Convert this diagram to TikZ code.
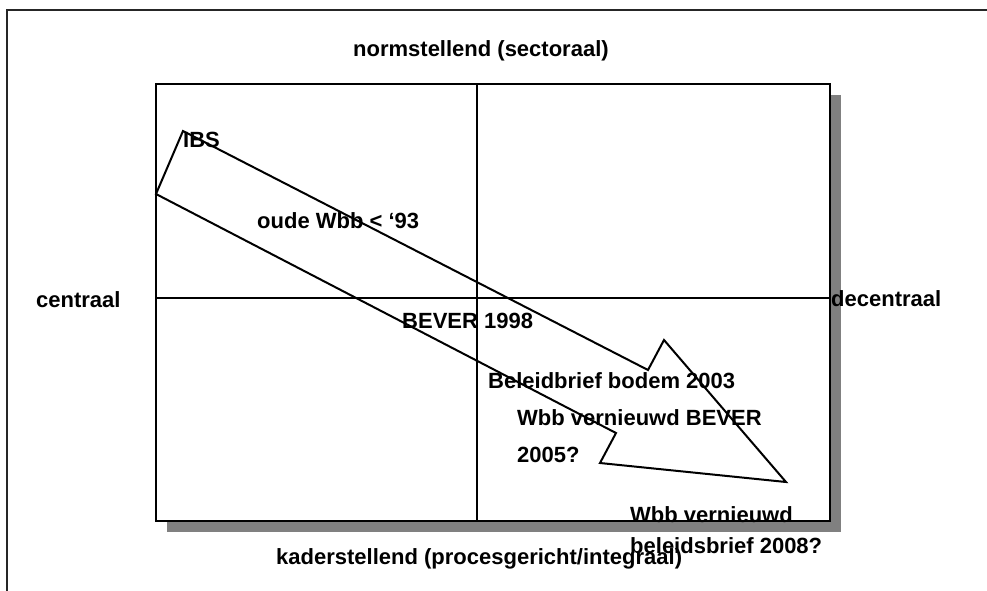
\documentclass[tikz,border=0pt]{standalone}
\usepackage{fontspec}
\setmainfont{Liberation Sans}
\begin{document}
\begin{tikzpicture}[x=1pt,y=-1pt,
  lbl/.style={anchor=base west,inner sep=0pt,font=\fontsize{22}{26}\selectfont\bfseries},
  frameline/.style={line width=2.2pt,draw=black!85},
  boxline/.style={line width=2pt},
  axisline/.style={line width=1.6pt},
  arrowline/.style={line width=2pt,line join=miter}]
\useasboundingbox (0,0) rectangle (987,590);
\fill[white] (0,0) rectangle (987,590);

% outer frame, running off the right and bottom edges
\draw[frameline] (7,600) -- (7,10) -- (1000,10);

% quadrant box with its drop shadow
\fill[black!50] (167,95) rectangle (841,532);
\fill[white] (156,84) rectangle (830,521);
\draw[boxline] (156,84) rectangle (830,521);
\draw[axisline] (477,84) -- (477,521);
\draw[axisline] (156,298) -- (830,298);

% development arrow from central/normative to decentral/framework
\draw[arrowline] (156,194) -- (183,131) -- (648,370) -- (664,340)
  -- (786,482) -- (600,463) -- (616,433) -- cycle;

% axis labels
\node[lbl] (top) at (353,56) {normstellend (sectoraal)};
\node[lbl] (left) at (36,307) {centraal};
\node[lbl] (right) at (831,306) {decentraal};
\node[lbl] (bottom) at (276,564) {kaderstellend (procesgericht/integraal)};

% milestones
\node[lbl] (ibs) at (183,147) {IBS};
\node[lbl] (wbb) at (257,228) {oude Wbb < ‘93};
\node[lbl] (bever) at (402,328) {BEVER 1998};
\node[lbl] (brief) at (488,388) {Beleidbrief bodem 2003};
\node[lbl] (wbbn) at (517,425) {Wbb vernieuwd BEVER};
\node[lbl] (y05) at (517,462) {2005?};
\node[lbl] (wbbn2) at (630,522) {Wbb vernieuwd};
\node[lbl] (brief2) at (630,553) {beleidsbrief 2008?};
\end{tikzpicture}
\end{document}
